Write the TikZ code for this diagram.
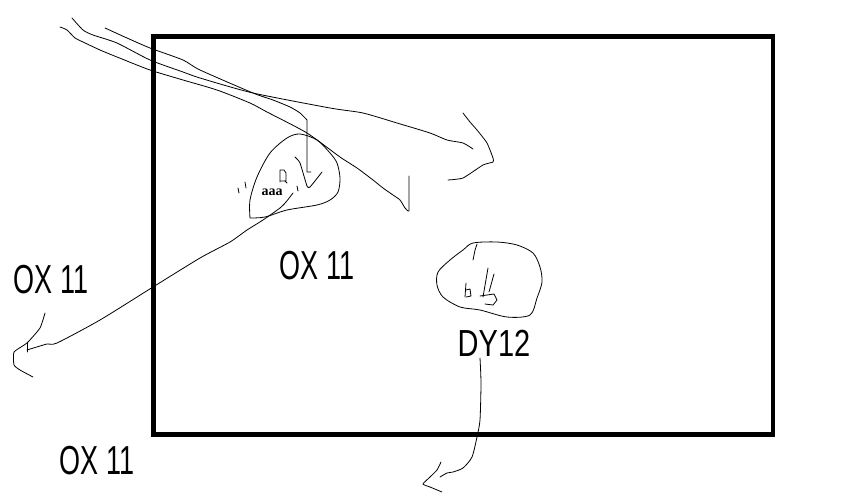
\documentclass[tikz,border=0pt]{standalone}
\usepackage{fontspec}
\setmainfont{Liberation Sans}
\newfontfamily\serifb{Liberation Serif}
\begin{document}
\begin{tikzpicture}[x=1pt,y=-1pt,
  ink/.style={line width=0.8pt, line join=round, line cap=round},
  hand/.style={font=\fontsize{27}{27}\selectfont, inner sep=0pt},
  frame/.style={line width=4.5pt}
]
\useasboundingbox (0,0) rectangle (845,501);
\fill[white] (0,0) rectangle (845,501);
\draw[frame] (153.5,36.5) rectangle (773,434.5);

% top strokes
\draw[ink] plot[smooth,tension=0.4] coordinates {(60,27) (67,30) (75,38) (83,42) (100,50) (117,57) (150,70) (183,80) (217,90) (250,103) (267,112) (307,133) (340,157) (357,168) (373,180) (383,188) (393,195) (400,200) (405,208) (408,211)} -- (409,211) -- (409,176);
\draw[ink] plot[smooth,tension=0.4] coordinates {(72,18) (83,30) (93,35) (117,43) (150,60) (183,72) (200,78) (253,93) (330,108) (363,113) (397,123) (430,133) (447,140) (463,143) (473,149)};
\draw[ink] plot[smooth,tension=0.3] coordinates {(463,113) (470,122) (477,130) (487,143) (493,158) (493,162) (483,165) (463,178) (448,180)};
\draw[ink] plot[smooth,tension=0.4] coordinates {(105,28) (127,38) (150,48) (183,60) (200,70) (253,93) (273,100) (290,107) (300,113) (307,120)} -- (307,172) -- (311,172);
\draw[ink] plot[smooth,tension=0.3] coordinates {(295,157) (300,163) (307,186) (310,187) (322,172)};

% teardrop
\draw[ink] plot[smooth,tension=0.5] coordinates {(250,218) (250,200) (257,177) (270,153) (287,138) (300,134) (317,140) (330,153) (337,163) (340,178) (338,192) (330,200) (317,205) (287,210) (265,217) (250,218)};
\draw[ink] (238,188) -- (239,193);
\draw[ink] (245,182) -- (246,188);
\draw[ink] (297,186) -- (298,191);
\draw[ink] (280,182) -- (280,170) -- (284,170) -- (286,173) -- (286,181) -- (281,181);
\draw[ink] (285,181) -- (287,183);
\node[font=\serifb\bfseries\fontsize{14}{14}\selectfont, inner sep=0pt] (aaa) at (272,192) {aaa};

% long stroke to the left
\draw[ink] plot[smooth,tension=0.4] coordinates {(293,193) (286,202) (280,208) (263,220) (247,230) (230,242) (200,258) (153,287) (100,320) (57,343) (47,344) (27,350)};
\draw[ink] (27,343) -- (27,352);
\draw[ink] plot[smooth,tension=0.3] coordinates {(45,313) (40,328) (27,343) (14,352) (14,365) (20,370) (33,377)};

% second blob
\draw[ink] plot[smooth cycle,tension=0.5] coordinates {(473,243) (497,242) (517,245) (533,253) (540,267) (542,282) (537,298) (530,315) (507,317) (480,310) (460,307) (443,297) (437,285) (438,272) (450,260) (463,250)};
\draw[ink] (477,244) -- (475,250) -- (473,260);
\draw[ink] (466,283) -- (465,297);
\draw[ink] (466,290) -- (470,289) -- (471,296) -- (466,297);
\draw[ink] (488,268) -- (483,297);
\draw[ink] (494,274) -- (489,292);
\draw[ink] (480,296) -- (494,294) -- (497,300) -- (493,305) -- (485,304);

% stroke down from DY12
\draw[ink] plot[smooth,tension=0.4] coordinates {(480,358) (481,383) (480,420) (477,437) (472,457) (463,468) (453,472) (447,473) (440,477)};
\draw[ink] plot[smooth,tension=0.3] coordinates {(441,462) (437,470) (430,477) (423,484) (430,487) (442,492)};

% labels
\node[hand] (ox1) at (317,266) {\scalebox{1}[1.5]{OX 11}};
\node[hand] (ox2) at (51,280) {\scalebox{1}[1.5]{OX 11}};
\node[hand] (ox3) at (97,461) {\scalebox{1}[1.5]{OX 11}};
\node[hand, font=\fontsize{29}{29}\selectfont] (dy) at (494,343) {\scalebox{1}[1.3]{DY12}};
\end{tikzpicture}
\end{document}
